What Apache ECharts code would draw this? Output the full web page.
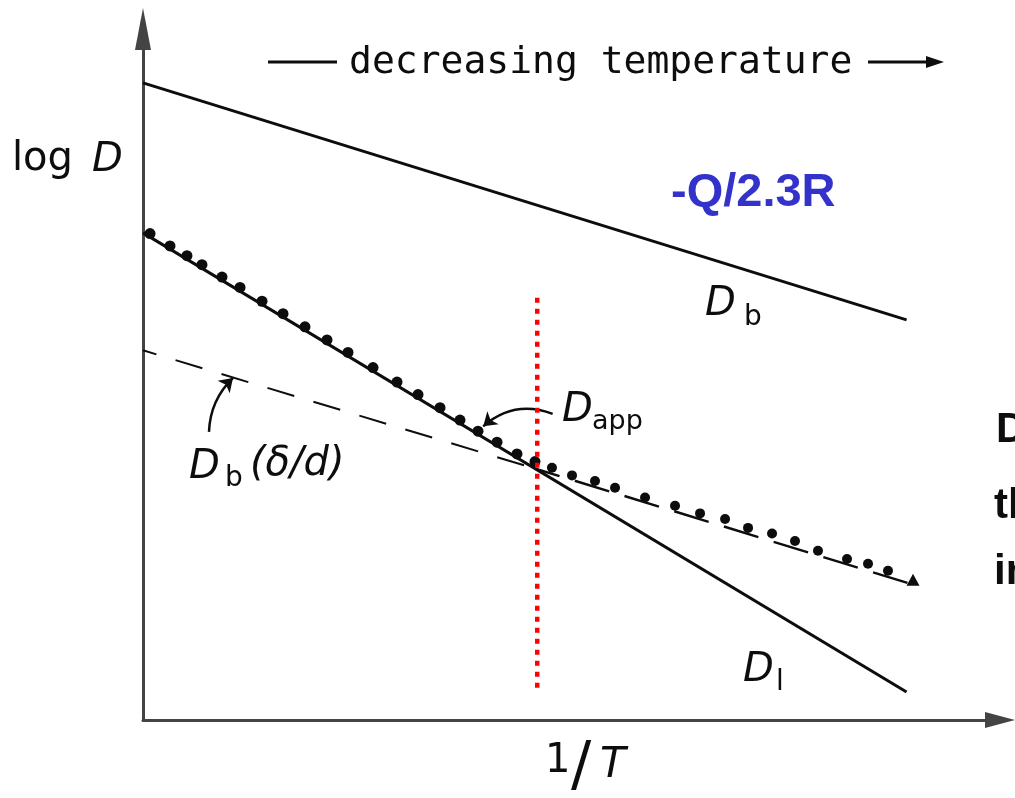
<!DOCTYPE html>
<html>
<head>
<meta charset="utf-8">
<title>Diffusion: log D vs 1/T</title>
<script src="https://cdn.jsdelivr.net/npm/echarts@6/dist/echarts.min.js"></script>
<style>
  html, body { margin: 0; padding: 0; background: #fff; }
  #chart { width: 1015px; height: 798px; }
</style>
</head>
<body>
<div id="chart"></div>
<script>
// Schematic Arrhenius plot: log D against 1/T (arbitrary units 0..100)
const lineDb = [[0, 92.2], [89.1, 57.9]];          // boundary diffusion D_b
const lineDl = [[0, 70.5], [89.1, 4.05]];          // lattice diffusion D_l
const lineDbDelta = [[0, 53.5], [45.7, 36.4]];     // D_b(δ/d), dashed
const dappTail = [[45.7, 36.4], [90.1, 19.5]];     // D_app at low temperature
// D_app bumps riding on the lattice line (high temperature side)
const dappBumps = [
  [0.82, 70.4], [3.15, 68.6], [5.13, 67.2], [6.88, 65.9], [9.22, 64.1],
  [11.32, 62.6], [13.89, 60.6], [16.34, 58.8], [18.90, 56.9], [21.47, 55.0],
  [23.92, 53.2], [26.84, 51.0], [29.64, 48.9], [32.09, 47.1], [34.66, 45.2],
  [36.99, 43.4], [39.09, 41.8], [41.31, 40.2], [43.64, 38.5], [45.74, 37.4]
];
// D_app dots on the low temperature side
const dappDots = [
  [47.72, 36.5], [50.06, 35.4], [52.74, 34.6], [55.08, 33.6], [58.58, 32.2],
  [62.08, 31.0], [65.00, 29.9], [67.92, 29.1], [70.60, 27.8], [73.40, 27.0],
  [76.08, 25.9], [78.76, 24.5], [82.15, 23.3], [84.60, 22.6], [86.93, 21.6]
];
const dappEnd = [[89.85, 20.3]];
const transitionLine = [[46.0, 61.1], [46.0, 4.6]];
// curved pointers from labels to curves
const pointerDapp = [[47.8, 44.3], [39.7, 42.5]];
const pointerDbDelta = [[7.7, 41.7], [10.5, 49.5]];

const INK = '#0d0d0d';
const SANS = '"DejaVu Sans", sans-serif';
const BOLD = 'bold 42px "Liberation Sans", Arial, sans-serif';

const chart = echarts.init(document.getElementById('chart'), null, { renderer: 'canvas' });

function axis(size) {
  return {
    type: 'value', min: 0, max: 100,
    axisLine: { show: true, symbol: ['none', 'triangle'], symbolSize: size,
      lineStyle: { color: '#444', width: 3 } },
    axisTick: { show: false }, axisLabel: { show: false }, splitLine: { show: false }
  };
}

function txt(text, x, y, font, fill) {
  return { type: 'text', x: x, y: y, silent: true,
    style: { text: text, font: font, fill: fill || INK, verticalAlign: 'middle', align: 'left' } };
}

const option = {
  backgroundColor: '#fff',
  animation: false,
  grid: { left: 143, right: 15, top: 29, bottom: 78 },
  xAxis: axis([16, 30]),
  yAxis: axis([16, 42]),
  series: [
    { type: 'line', data: lineDb, symbol: 'none', lineStyle: { color: INK, width: 3 } },
    { type: 'line', data: lineDl, symbol: 'none', lineStyle: { color: INK, width: 3 } },
    { type: 'line', data: lineDbDelta, symbol: 'none',
      lineStyle: { color: INK, width: 2, type: [28, 20], dashOffset: 14 } },
    { type: 'line', data: dappTail, symbol: 'none',
      lineStyle: { color: INK, width: 2.5, type: [36, 16], dashOffset: 10 } },
    { type: 'scatter', data: dappBumps, symbol: 'circle', symbolSize: 11,
      itemStyle: { color: INK, opacity: 1 } },
    { type: 'scatter', data: dappDots, symbol: 'circle', symbolSize: 10,
      itemStyle: { color: INK, opacity: 1 } },
    { type: 'scatter', data: dappEnd, symbol: 'triangle', symbolSize: [13, 12],
      itemStyle: { color: INK, opacity: 1 } },
    { type: 'line', data: transitionLine, symbol: 'none', z: 5,
      lineStyle: { color: '#ff0000', width: 4.5, type: [5, 6] } },
    { type: 'lines', coordinateSystem: 'cartesian2d', z: 4,
      symbol: ['none', 'arrow'], symbolSize: 13,
      lineStyle: { color: INK, width: 2.5, opacity: 1 },
      data: [
        { coords: pointerDapp, lineStyle: { curveness: -0.3 } },
        { coords: pointerDbDelta, lineStyle: { curveness: 0.2 } }
      ] }
  ],
  graphic: [
    // heading with direction arrow
    { type: 'line', silent: true, shape: { x1: 268, y1: 62, x2: 337, y2: 62 },
      style: { stroke: INK, lineWidth: 3 } },
    txt('decreasing temperature', 349, 63, '38px "DejaVu Sans Mono", monospace'),
    { type: 'line', silent: true, shape: { x1: 868, y1: 62, x2: 930, y2: 62 },
      style: { stroke: INK, lineWidth: 3 } },
    { type: 'polygon', silent: true, shape: { points: [[944, 62], [926, 56], [926, 68]] },
      style: { fill: INK } },
    // y axis title
    txt('log', 12, 160, '40px ' + SANS),
    txt('D', 92, 161, 'italic 40px ' + SANS),
    // x axis title
    txt('1', 545, 762, '40px ' + SANS),
    txt('/', 571, 768, '60px ' + SANS),
    txt('T', 600, 766, 'italic 42px ' + SANS),
    // slope note
    txt('-Q/2.3R', 671, 193, 'bold 47px "Liberation Sans", Arial, sans-serif', '#3333cc'),
    // curve labels
    txt('D', 705, 305, 'italic 40px ' + SANS),
    txt('b', 744, 318, '28px ' + SANS),
    txt('D', 562, 411, 'italic 40px ' + SANS),
    txt('app', 592, 422, '27px ' + SANS),
    txt('D', 189, 468, 'italic 40px ' + SANS),
    txt('b', 225, 479, '28px ' + SANS),
    txt('(δ/d)', 250, 465, 'italic 40px ' + SANS),
    txt('D', 743, 671, 'italic 40px ' + SANS),
    txt('l', 776, 683, '28px ' + SANS),
    // side note running off the right edge
    txt('D', 996, 430, BOLD),
    txt('th', 994, 506, BOLD),
    txt('in', 994, 572, BOLD)
  ]
};

chart.setOption(option);
</script>
</body>
</html>
